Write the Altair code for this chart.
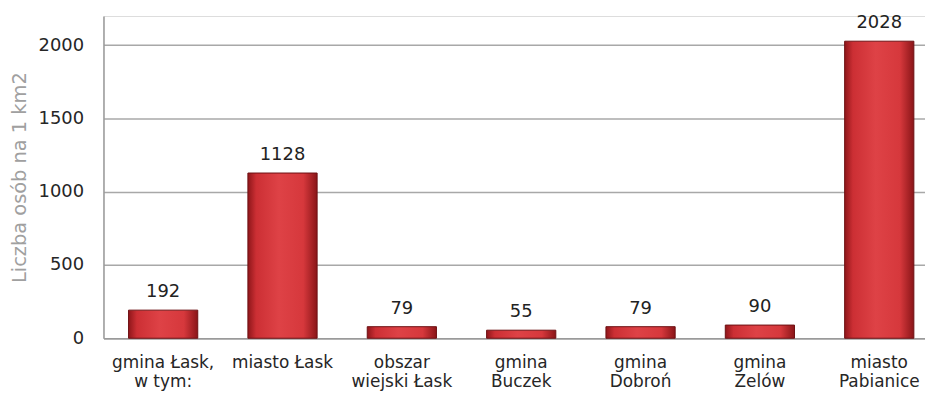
import altair as alt
import pandas as pd

categories = ["gmina Łask,|w tym:", "miasto Łask", "obszar|wiejski Łask", "gmina|Buczek",
              "gmina|Dobroń", "gmina|Zelów", "miasto|Pabianice"]
values = [192, 1128, 79, 55, 79, 90, 2028]
y_ticks = [0, 500, 1000, 1500, 2000]

df = pd.DataFrame({"cat": categories, "val": values})

FONT = "DejaVu Sans"

x_enc = alt.X("cat:N", sort=categories,
              scale=alt.Scale(range=[0, 840], paddingInner=0.42, paddingOuter=0.21),
              axis=alt.Axis(title=None, labelAngle=0, ticks=False, labelPadding=16,
                            labelExpr="split(datum.label, '|')", labelLineHeight=20,
                            labelFont=FONT, labelFontSize=17, labelColor="#262626",
                            domainColor="#9a9a9a", domainWidth=1.5, grid=False,
                            labelBaseline="top"))

y_enc = alt.Y("val:Q", scale=alt.Scale(domain=[0, 2200], nice=False),
              axis=alt.Axis(title="Liczba osób na 1 km2", values=y_ticks, ticks=False,
                            format="d",
                            labelPadding=20, labelFont=FONT, labelFontSize=18,
                            labelColor="#262626", titleFont=FONT, titleFontSize=19.5,
                            titleFontWeight="normal", titleColor="#a0a0a0", titlePadding=9,
                            grid=True, gridColor="#a8a8a8", gridWidth=1.5,
                            domainColor="#9a9a9a", domainWidth=1.5))

grad = alt.Gradient(gradient="linear", x1=0, x2=1, y1=0, y2=0,
                    stops=[alt.GradientStop(color="#8f161a", offset=0),
                           alt.GradientStop(color="#cc2f34", offset=0.12),
                           alt.GradientStop(color="#de4246", offset=0.45),
                           alt.GradientStop(color="#d6383c", offset=0.8),
                           alt.GradientStop(color="#8a1518", offset=1)])

bars = alt.Chart(df).mark_bar(color=grad, stroke="#6e1013", strokeWidth=1).encode(x=x_enc, y=y_enc)

labels = alt.Chart(df).mark_text(baseline="bottom", dy=-9, font=FONT, fontSize=18,
                                 color="#222222").encode(
    x=alt.X("cat:N", sort=categories), y=alt.Y("val:Q"), text=alt.Text("val:Q"))

chart = (bars + labels).properties(
    width=826, height=324,
    autosize=alt.AutoSizeParams(type="none"),
    padding={"left": 96, "top": 7, "right": 0, "bottom": 54},
).configure_view(stroke=None).configure(background="white")

chart.save("out.html", embed_options={"renderer": "svg", "actions": False})
